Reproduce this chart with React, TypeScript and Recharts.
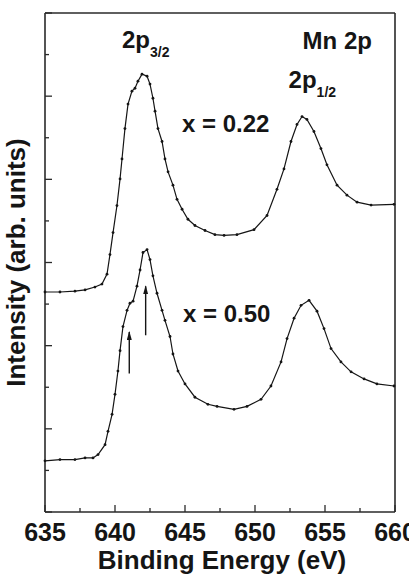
import React from "react";
import {
  LineChart,
  Line,
  XAxis,
  YAxis,
  ReferenceLine,
  ReferenceDot,
} from "recharts";

// Mn 2p XPS spectra, binding energy (eV) vs intensity (arb. units, 0..12 frame)
const energyTop = [
  635.0, 636.07, 637.14, 637.86, 638.57, 639.07, 639.43, 639.64, 639.86, 640.14,
  640.36, 640.5, 640.71, 640.93, 641.21, 641.43, 641.64, 641.93, 642.29, 642.5,
  642.71, 642.86, 643.07, 643.36, 643.57, 643.79, 644.14, 644.43, 644.79, 645.21,
  645.71, 646.43, 647.14, 647.79, 648.71, 649.93, 650.86, 651.57, 652.07, 652.57,
  653.0, 653.36, 653.71, 654.21, 654.71, 655.14, 655.86, 656.57, 657.29, 658.29,
  659.93,
];
const intensityTop = [
  5.29, 5.29, 5.31, 5.34, 5.41, 5.48, 5.72, 6.19, 6.72, 7.37,
  8.01, 8.49, 9.22, 9.81, 10.12, 10.19, 10.36, 10.53, 10.48, 10.29,
  9.95, 9.64, 9.22, 8.91, 8.49, 8.18, 7.86, 7.52, 7.28, 7.04,
  6.89, 6.77, 6.67, 6.65, 6.67, 6.79, 7.13, 7.76, 8.25, 8.91,
  9.32, 9.51, 9.44, 9.15, 8.74, 8.35, 7.86, 7.62, 7.45, 7.38,
  7.4,
];

const energyBottom = [
  635.0, 636.07, 637.14, 637.86, 638.43, 638.79, 639.29, 639.5, 639.79, 640.0,
  640.21, 640.36, 640.57, 640.86, 641.07, 641.29, 641.57, 641.79, 642.0, 642.29,
  642.5, 642.71, 643.0, 643.36, 643.57, 643.93, 644.14, 644.5, 645.0, 645.71,
  646.64, 647.29, 648.5, 649.43, 650.43, 651.14, 651.86, 652.29, 652.79, 653.29,
  653.86, 654.43, 654.93, 655.43, 656.14, 656.86, 657.79, 658.71, 659.93,
];
const intensityBottom = [
  1.23, 1.26, 1.26, 1.3, 1.3, 1.38, 1.62, 1.94, 2.35, 2.83,
  3.39, 3.88, 4.46, 4.85, 5.02, 5.07, 5.43, 5.82, 6.24, 6.31,
  6.07, 5.68, 5.26, 4.85, 4.61, 4.22, 3.8, 3.39, 3.08, 2.76,
  2.59, 2.54, 2.47, 2.54, 2.71, 3.03, 3.61, 4.17, 4.66, 4.97,
  5.09, 4.83, 4.41, 3.93, 3.61, 3.37, 3.2, 3.08, 3.03,
];

const xTicks = [635, 637.5, 640, 642.5, 645, 647.5, 650, 652.5, 655, 657.5, 660];
const yTicks = [0, 1, 2, 3, 4, 5, 6, 7, 8, 9, 10, 11, 12];

// arrows marking the two 2p3/2 components of x = 0.50
const arrows = [
  { e: 641.02, from: 3.33, to: 4.33 },
  { e: 642.19, from: 4.25, to: 5.43 },
];

const notes = [
  { e: 640.5, v: 11.16, text: "2p", sub: "3/2" },
  { e: 653.4, v: 11.14, text: "Mn 2p", sub: "" },
  { e: 652.4, v: 10.2, text: "2p", sub: "1/2" },
  { e: 644.79, v: 9.15, text: "x = 0.22", sub: "" },
  { e: 644.86, v: 4.58, text: "x = 0.50", sub: "" },
];

const topData = energyTop.map((e, i) => ({ e, v: intensityTop[i] }));
const bottomData = energyBottom.map((e, i) => ({ e, v: intensityBottom[i] }));

const FONT = "'Liberation Sans', Arial, sans-serif";
const INK = "#151515";
const FRAME = "#2a2a2a";

function BottomTick(props: any) {
  const { x, y, payload } = props;
  const major = payload.value % 5 === 0;
  return (
    <g>
      <line x1={x} x2={x} y1={y} y2={y - (major ? 7 : 4)} stroke={FRAME} strokeWidth={1.3} />
      {major && (
        <text x={x} y={y + 29} textAnchor="middle" fontFamily={FONT} fontWeight="bold" fontSize={25} fill={INK}>
          {payload.value}
        </text>
      )}
    </g>
  );
}

function TopTick(props: any) {
  const { x, y, payload } = props;
  const major = payload.value % 5 === 0;
  return <line x1={x} x2={x} y1={y} y2={y + (major ? 7 : 4)} stroke={FRAME} strokeWidth={1.3} />;
}

function LeftTick(props: any) {
  const { x, y, payload } = props;
  const major = payload.value % 2 === 0;
  return <line x1={x} x2={x + (major ? 7 : 4)} y1={y} y2={y} stroke={FRAME} strokeWidth={1.3} />;
}

function RightTick(props: any) {
  const { x, y, payload } = props;
  const major = payload.value % 2 === 0;
  return <line x1={x} x2={x - (major ? 7 : 4)} y1={y} y2={y} stroke={FRAME} strokeWidth={1.3} />;
}

function NoteLabel(props: any, text: string, sub: string) {
  const { viewBox } = props;
  return (
    <text x={viewBox.x} y={viewBox.y} fontFamily={FONT} fontWeight="bold" fontSize={24} fill={INK}>
      {text}
      {sub && (
        <tspan fontSize={14} dy={9}>
          {sub}
        </tspan>
      )}
    </text>
  );
}

export default function App() {
  return (
    <div style={{ position: "absolute", left: 0, top: 0, background: "#fff" }}>
      <LineChart
        width={409}
        height={574}
        margin={{ top: 12, right: 13, left: 0, bottom: 0 }}
      >
        <defs>
          <marker
            id="arrowHead"
            viewBox="0 0 9 5"
            refX="8"
            refY="2.5"
            markerWidth="9"
            markerHeight="5"
            markerUnits="userSpaceOnUse"
            orient="auto"
          >
            <path d="M0,0 L9,2.5 L0,5 z" fill={INK} />
          </marker>
        </defs>

        <XAxis
          dataKey="e"
          type="number"
          domain={[635, 660]}
          ticks={xTicks}
          interval={0}
          height={62}
          tickSize={0}
          tickMargin={0}
          tickLine={false}
          axisLine={{ stroke: FRAME, strokeWidth: 1.6 }}
          tick={<BottomTick />}
          label={{
            content: (p: any) => (
              <text
                x={p.viewBox.x + p.viewBox.width / 2 + 2}
                y={p.viewBox.y + 57}
                textAnchor="middle"
                fontFamily={FONT}
                fontWeight="bold"
                fontSize={26}
                fill={INK}
              >
                Binding Energy (eV)
              </text>
            ),
          }}
        />
        <XAxis
          xAxisId="top"
          orientation="top"
          dataKey="e"
          type="number"
          domain={[635, 660]}
          ticks={xTicks}
          interval={0}
          height={1}
          tickSize={0}
          tickMargin={0}
          tickLine={false}
          axisLine={{ stroke: FRAME, strokeWidth: 1.6 }}
          tick={<TopTick />}
        />
        <YAxis
          type="number"
          domain={[0, 12]}
          ticks={yTicks}
          interval={0}
          width={45}
          tickSize={0}
          tickMargin={0}
          tickLine={false}
          axisLine={{ stroke: FRAME, strokeWidth: 1.6 }}
          tick={<LeftTick />}
          label={{
            content: (p: any) => {
              const cx = p.viewBox.x + 16;
              const cy = p.viewBox.y + p.viewBox.height / 2;
              return (
                <text
                  x={cx}
                  y={cy}
                  transform={`rotate(-90, ${cx}, ${cy})`}
                  textAnchor="middle"
                  dominantBaseline="central"
                  fontFamily={FONT}
                  fontWeight="bold"
                  fontSize={26}
                  fill={INK}
                >
                  Intensity (arb. units)
                </text>
              );
            },
          }}
        />
        <YAxis
          yAxisId="right"
          orientation="right"
          type="number"
          domain={[0, 12]}
          ticks={yTicks}
          interval={0}
          width={1}
          tickSize={0}
          tickMargin={0}
          tickLine={false}
          axisLine={{ stroke: FRAME, strokeWidth: 1.6 }}
          tick={<RightTick />}
        />

        <Line
          data={topData}
          dataKey="v"
          type="linear"
          stroke={INK}
          strokeWidth={1.2}
          dot={{ r: 1.4, fill: INK, stroke: "none" }}
          isAnimationActive={false}
        />
        <Line
          data={bottomData}
          dataKey="v"
          type="linear"
          stroke={INK}
          strokeWidth={1.2}
          dot={{ r: 1.4, fill: INK, stroke: "none" }}
          isAnimationActive={false}
        />

        {arrows.map((a, i) => (
          <ReferenceLine
            key={`arrow-${i}`}
            segment={[
              { x: a.e, y: a.from },
              { x: a.e, y: a.to },
            ]}
            stroke={INK}
            strokeWidth={1.4}
            shape={(p: any) => (
              <line
                x1={p.x1}
                y1={p.y1}
                x2={p.x2}
                y2={p.y2}
                stroke={INK}
                strokeWidth={1.4}
                markerEnd="url(#arrowHead)"
              />
            )}
          />
        ))}

        {notes.map((n, i) => (
          <ReferenceDot
            key={`note-${i}`}
            x={n.e}
            y={n.v}
            r={0}
            fill="none"
            stroke="none"
            label={{ content: (p: any) => NoteLabel(p, n.text, n.sub) }}
          />
        ))}
      </LineChart>
    </div>
  );
}
